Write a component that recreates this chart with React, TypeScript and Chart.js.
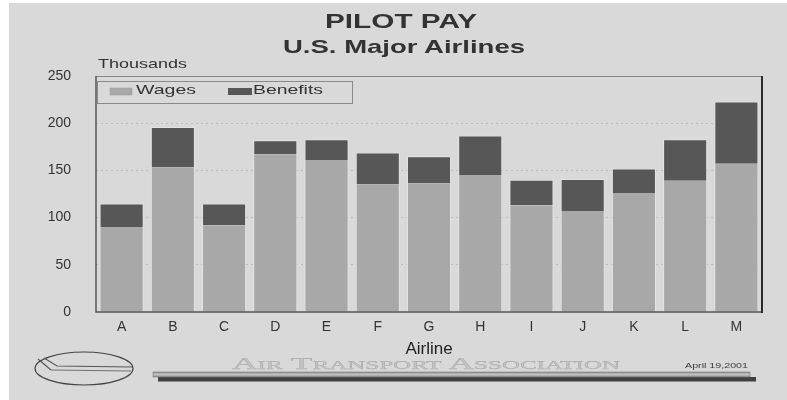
import React, { useEffect, useRef } from "react";
import { Chart, registerables } from "chart.js";

Chart.register(...registerables);

// ---- data ----
const airlines = ["A", "B", "C", "D", "E", "F", "G", "H", "I", "J", "K", "L", "M"];
const wages = [90, 153, 92, 167, 161, 135, 136, 145, 113, 107, 126, 139, 157];
const benefits = [25, 43, 23, 15, 22, 34, 29, 42, 27, 34, 26, 44, 66];
const seriesNames = ["Wages", "Benefits"];
const yTicks = [0, 50, 100, 150, 200, 250];

const chartTitle = "PILOT PAY";
const chartSubtitle = "U.S. Major Airlines";
const yUnit = "Thousands";
const xTitle = "Airline";
const footerOrg = "Air Transport Association";
const footerDate = "April 19,2001";

// ---- styles ----
const BG = "#d9d9d9";
const WAGE_COLOR = "#a8a8a8";
const BEN_COLOR = "#575757";
const HALO = "#e4e4e4";
const TEXT = "#333333";
const FONT = '"Liberation Sans", Arial, Helvetica, sans-serif';

const framePlugin = {
  id: "frame",
  afterDatasetsDraw(chart: any) {
    const { ctx, chartArea } = chart;
    const { left, right, top, bottom } = chartArea;
    ctx.save();
    ctx.strokeStyle = "#888888";
    ctx.lineWidth = 1;
    ctx.beginPath();
    ctx.moveTo(left, top + 0.5);
    ctx.lineTo(right, top + 0.5);
    ctx.stroke();
    ctx.strokeStyle = "#555555";
    ctx.lineWidth = 1.5;
    ctx.beginPath();
    ctx.moveTo(left, top);
    ctx.lineTo(left, bottom);
    ctx.lineTo(right, bottom);
    ctx.stroke();
    ctx.strokeStyle = "#2a2a2a";
    ctx.lineWidth = 2;
    ctx.beginPath();
    ctx.moveTo(right, top);
    ctx.lineTo(right, bottom + 1);
    ctx.stroke();
    ctx.restore();
  },
};

export default function App() {
  const ref = useRef<HTMLCanvasElement>(null);

  useEffect(() => {
    const yMin = yTicks[0];
    const yMax = yTicks[yTicks.length - 1];
    const step = yTicks[1] - yTicks[0];
    const chart = new Chart(ref.current as HTMLCanvasElement, {
      type: "bar",
      data: {
        labels: airlines,
        datasets: [
          {
            label: seriesNames[0],
            data: wages,
            backgroundColor: WAGE_COLOR,
            borderColor: HALO,
            borderWidth: { left: 1, right: 1, top: 0, bottom: 0 },
            borderSkipped: false,
            stack: "s",
          },
          {
            label: seriesNames[1],
            data: benefits,
            backgroundColor: BEN_COLOR,
            borderColor: HALO,
            borderWidth: { left: 1, right: 1, top: 1, bottom: 0 },
            borderSkipped: false,
            stack: "s",
          },
        ],
      },
      options: {
        responsive: false,
        animation: false,
        layout: { padding: { left: 31, right: 25, top: 73, bottom: 38 } },
        datasets: { bar: { barPercentage: 0.86, categoryPercentage: 1 } },
        plugins: {
          legend: { display: false },
          title: { display: false },
          tooltip: { enabled: false },
        },
        scales: {
          x: {
            stacked: true,
            grid: { display: false, drawTicks: false },
            border: { display: false },
            ticks: { font: { family: FONT, size: 14 }, color: TEXT, padding: 7 },
            title: {
              display: true,
              text: xTitle,
              font: { family: FONT, size: 17 },
              color: "#222222",
              padding: { top: 0, bottom: 2 },
            },
            afterFit(scale: any) {
              scale.height = 50;
            },
          },
          y: {
            stacked: true,
            min: yMin,
            max: yMax,
            ticks: { stepSize: step, font: { family: FONT, size: 14 }, color: TEXT, padding: 25 },
            grid: {
              drawTicks: false,
              lineWidth: 1,
              color: (c: any) =>
                c.tick && c.tick.value > yMin && c.tick.value < yMax ? "#bdbdbd" : "rgba(0,0,0,0)",
            },
            border: { display: false, dash: [2, 3] },
            afterFit(scale: any) {
              scale.width = 56;
            },
          },
        },
      } as any,
      plugins: [framePlugin],
    });
    return () => chart.destroy();
  }, []);

  return (
    <div
      style={{
        position: "absolute",
        left: 9,
        top: 3,
        width: 778,
        height: 397,
        background: BG,
        overflow: "hidden",
      }}
    >
      <canvas ref={ref} width={778} height={397} style={{ position: "absolute", left: 0, top: 0 }} />
      <svg
        width={778}
        height={397}
        style={{ position: "absolute", left: 0, top: 0, pointerEvents: "none" }}
        fontFamily={FONT}
      >
        <defs>
          <linearGradient id="band" x1="0" y1="0" x2="0" y2="1">
            <stop offset="0" stopColor="#8c8c8c" />
            <stop offset="0.5" stopColor="#c4c4c4" />
            <stop offset="1" stopColor="#8c8c8c" />
          </linearGradient>
        </defs>
        <text x={392} y={25} textAnchor="middle" fontSize={20} fontWeight="bold" fill={TEXT}
          textLength={152} lengthAdjust="spacingAndGlyphs">{chartTitle}</text>
        <text x={395} y={50} textAnchor="middle" fontSize={19} fontWeight="bold" fill={TEXT}
          textLength={242} lengthAdjust="spacingAndGlyphs">{chartSubtitle}</text>
        <text x={89} y={65} fontSize={13} fill={TEXT} textLength={89} lengthAdjust="spacingAndGlyphs">{yUnit}</text>
        <rect x={88.5} y={78.5} width={255} height={22} fill="none" stroke="#8a8a8a" strokeWidth={1} />
        <rect x={101} y={85} width={22} height={7} fill={WAGE_COLOR} stroke="#9a9a9a" strokeWidth={0.5} />
        <text x={127} y={91} fontSize={13} fill={TEXT} textLength={60} lengthAdjust="spacingAndGlyphs">{seriesNames[0]}</text>
        <rect x={219} y={85} width={24} height={7} fill={BEN_COLOR} />
        <text x={244} y={91} fontSize={13} fill={TEXT} textLength={70} lengthAdjust="spacingAndGlyphs">{seriesNames[1]}</text>
        <ellipse cx={75} cy={365.5} rx={49} ry={16.5} fill="none" stroke="#444444" strokeWidth={1.2} />
        <path d="M 29 356 L 42 367" fill="none" stroke="#555555" strokeWidth={1.1} />
        <path d="M 35 355 L 48 363 L 123 364" fill="none" stroke="#555555" strokeWidth={1.1} />
        <path d="M 42 367 L 122 368" fill="none" stroke="#666666" strokeWidth={0.9} />
        <text x={223} y={366} fontFamily='"Liberation Serif", "Times New Roman", serif' fontSize={17}
          fill="#c4c4c4" stroke="#9e9e9e" strokeWidth={0.25} style={{ fontVariant: "small-caps" }}
          textLength={388} lengthAdjust="spacingAndGlyphs">{footerOrg}</text>
        <text x={676} y={365} fontSize={8} fill="#3a3a3a" textLength={63} lengthAdjust="spacingAndGlyphs">{footerDate}</text>
        <rect x={149} y={374} width={598} height={4.5} fill="#404040" />
        <rect x={144} y={369} width={597} height={5} fill="url(#band)" stroke="#7a7a7a" strokeWidth={0.6} />
      </svg>
    </div>
  );
}
